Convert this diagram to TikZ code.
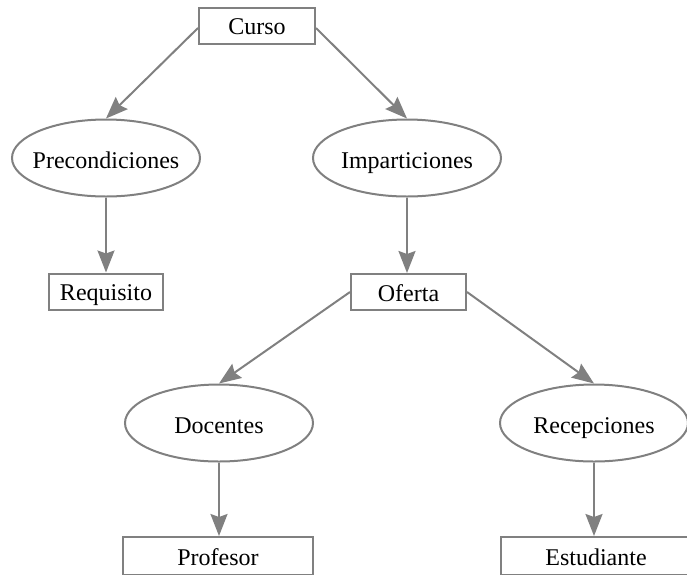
\documentclass[tikz,border=0pt]{standalone}
\usepackage{fontspec}
\setmainfont{Liberation Serif}
\usetikzlibrary{shapes.geometric,arrows.meta}
\definecolor{edgegray}{HTML}{808080}
\newcommand{\lbl}[1]{\makebox[0pt]{#1}}
\begin{document}
\begin{tikzpicture}[x=1pt,y=-1pt,
  every node/.style={font=\fontsize{24}{28}\selectfont, text=black, draw=edgegray, line width=2pt, inner sep=0pt},
  box/.style={rectangle, minimum height=36pt, text height=18pt, text depth=0pt},
  oval/.style={ellipse, minimum width=188pt, minimum height=77pt, text height=20pt, text depth=0pt},
  link/.style={draw=edgegray, line width=2pt, -{Stealth[length=22pt,width=17pt,inset=3pt]}}]
\useasboundingbox (0,0) rectangle (687,574);
\clip (0,0) rectangle (687,574);
% nodes
\node[box, minimum width=116pt] (curso) at (257,25.5) {\lbl{Curso}};
\node[oval] (pre) at (106,158) {\lbl{Precondiciones}};
\node[oval] (imp) at (407,158) {\lbl{Imparticiones}};
\node[box, minimum width=114pt] (req) at (106,291.5) {\lbl{Requisito}};
\node[box, minimum width=115pt] (oferta) at (408.5,292) {\lbl{Oferta}};
\node[oval] (doc) at (219,423) {\lbl{Docentes}};
\node[oval] (rec) at (594,423) {\lbl{Recepciones}};
\node[box, minimum width=190pt, minimum height=38pt] (prof) at (218,556) {\lbl{Profesor}};
\node[box, minimum width=190pt, minimum height=38pt] (est) at (596,556) {\lbl{Estudiante}};
% connectors
\draw[link] ([yshift=-2.5pt]curso.west) -- (pre.north);
\draw[link] ([yshift=-2.5pt]curso.east) -- (imp.north);
\draw[link] (pre.south) -- (pre.south |- req.north);
\draw[link] (imp.south) -- (imp.south |- oferta.north);
\draw[link] (oferta.west) -- (doc.north);
\draw[link] (oferta.east) -- (rec.north);
\draw[link] (doc.south) -- (doc.south |- prof.north);
\draw[link] (rec.south) -- (rec.south |- est.north);
\end{tikzpicture}
\end{document}
